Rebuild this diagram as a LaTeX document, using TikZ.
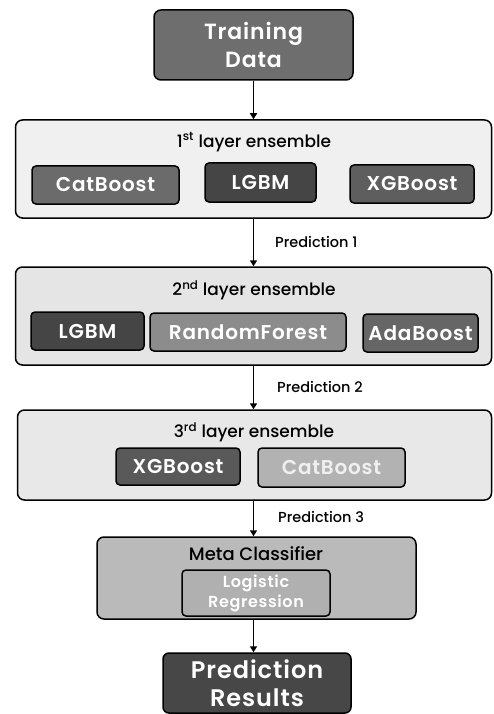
\documentclass[tikz,border=0pt]{standalone}
\usepackage{fontspec}
\setmainfont{Poppins}
\newfontfamily\boxfont[LetterSpace=4]{Poppins SemiBold}
\newfontfamily\medfont{Poppins Medium}
\usepackage{tikz}
\usetikzlibrary{arrows.meta}

\begin{document}
\begin{tikzpicture}[x=1pt, y=-1pt,
    layerbox/.style={draw=black, line width=1.5pt, rounded corners=7pt, fill=#1, inner sep=0pt},
    model/.style={draw=black, line width=1.5pt, rounded corners=4pt, fill=#1, text=white,
      font=\boxfont\fontsize{20}{22}\selectfont, inner sep=0pt, align=center},
    layertitle/.style={font=\medfont\fontsize{17}{18}\selectfont, inner sep=0pt},
    predlabel/.style={font=\medfont\fontsize{14.5}{15}\selectfont, anchor=west, inner sep=0pt},
    flow/.style={-{Triangle[length=6pt,width=7pt]}, line width=1.6pt}]
  \useasboundingbox (0,0) rectangle (493,714);

  % input
  \node[model=black!57, minimum width=199pt, minimum height=70pt,
    rounded corners=7pt, font=\boxfont\fontsize{22}{28}\selectfont] (train) at (253.5,45) {Training\\Data};

  % 1st layer
  \node[layerbox=gray!12, minimum width=476pt, minimum height=98pt] (layerA) at (253.5,169) {};
  \node[layertitle] (titleA) at (254,142) {1\textsuperscript{st} layer ensemble};
  \node[model=black!58, minimum width=147pt, minimum height=38pt] (catA) at (105.5,185) {CatBoost};
  \node[model=black!73, minimum width=111pt, minimum height=39pt] (lgbmA) at (260.5,182.5) {LGBM};
  \node[model=black!63, minimum width=124pt, minimum height=38pt] (xgbA) at (412,184) {XGBoost};

  % 2nd layer
  \node[layerbox=gray!20, minimum width=476pt, minimum height=98pt] (layerB) at (253.5,316) {};
  \node[layertitle] (titleB) at (254,290) {2\textsuperscript{nd} layer ensemble};
  \node[model=black!73, minimum width=113pt, minimum height=38pt] (lgbmB) at (87.5,331) {LGBM};
  \node[model=black!45, minimum width=196pt, minimum height=38pt] (rfB) at (248,332) {RandomForest};
  \node[model=black!60, minimum width=115pt, minimum height=38pt] (adaB) at (420.5,333) {AdaBoost};

  % 3rd layer
  \node[layerbox=gray!18, minimum width=474pt, minimum height=90pt] (layerC) at (254.5,455) {};
  \node[layertitle] (titleC) at (254,432) {3\textsuperscript{rd} layer ensemble};
  \node[model=black!65, minimum width=124pt, minimum height=37pt] (xgbC) at (178,466.5) {XGBoost};
  \node[model=black!30, text=gray!12, minimum width=147pt, minimum height=39pt] (catC) at (331.5,467.5) {CatBoost};

  % meta classifier
  \node[layerbox=black!27, minimum width=319pt, minimum height=82pt] (meta) at (256.5,578) {};
  \node[layertitle, font=\medfont\fontsize{18}{18}\selectfont] (titleM) at (256,554) {Meta Classifier};
  \node[model=black!31, minimum width=148pt, minimum height=46pt,
    font=\boxfont\fontsize{16}{20}\selectfont] (logreg) at (256,593) {Logistic\\Regression};

  % output
  \node[model=black!72, minimum width=188pt, minimum height=60pt, rounded corners=6pt,
    font=\boxfont\fontsize{24}{28}\selectfont] (result) at (257,683) {Prediction\\Results};

  % connectors
  \draw[flow] (train.south) -- (train.south |- layerA.north);
  \draw[flow] (layerA.south) -- (layerB.north);
  \draw[flow] (layerB.south) -- (layerB.south |- layerC.north);
  \draw[flow] (layerC.south -| layerB.south) -- (layerB.south |- meta.north);
  \draw[flow] (layerB.south |- meta.south) -- (layerB.south |- result.north);

  \node[predlabel] (predA) at (275,242) {Prediction 1};
  \node[predlabel] (predB) at (277,387) {Prediction 2};
  \node[predlabel] (predC) at (278,517) {Prediction 3};
\end{tikzpicture}
\end{document}
